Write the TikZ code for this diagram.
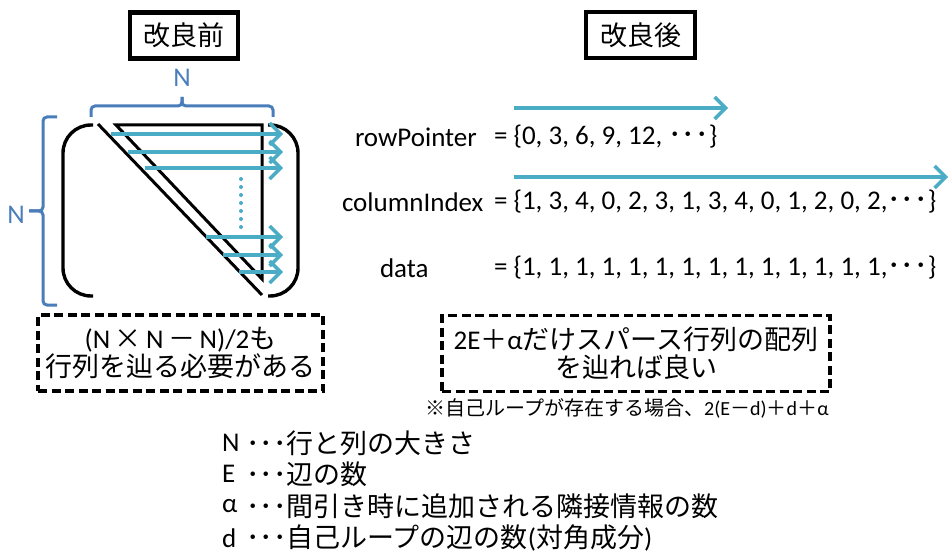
\documentclass[tikz,border=0pt]{standalone}
\usepackage{fontspec}
\setmainfont{Carlito}
\newfontfamily\jpfont{Noto Sans CJK JP}
\usepackage{xcolor}
\usepackage{tikz}
\usetikzlibrary{arrows.meta}

\definecolor{braceBlue}{RGB}{74,126,187}
\definecolor{scanTeal}{RGB}{75,172,198}
\newcommand{\jp}[1]{{\jpfont #1}}

\begin{document}
\begin{tikzpicture}[x=1pt, y=-1pt, inner sep=0, outer sep=0,
        font=\fontsize{27}{31}\selectfont,
        headBox/.style={draw, line width=4.5pt, minimum height=46pt},
        noteBox/.style={draw, line width=3.2pt, dash pattern=on 9pt off 4.5pt,
                align=center, minimum height=76pt},
        scanArrow/.style={scanTeal, line width=3.4pt,
                -{Straight Barb[length=11pt, width=22pt, line width=3.4pt]}},
        sizeBrace/.style={braceBlue, line width=3pt, rounded corners=4pt},
        matParen/.style={line width=3.4pt, rounded corners=28pt},
        diagLine/.style={line width=3pt}]

        \useasboundingbox (0,0) rectangle (950,553);

        % headings
        \node [headBox, minimum width=108pt] (before) at (184,35.5) {\jp{改良前}};
        \node [headBox, minimum width=109pt] (after) at (640.5,35) {\jp{改良後}};

        % size braces
        \draw [sizeBrace] (91,117) -- (91,106) -- (182,106) -- (182,97);
        \draw [sizeBrace] (273,117) -- (273,106) -- (182,106) -- (182,97);
        \draw [sizeBrace] (57,117) -- (43,117) -- (43,211) -- (29,211);
        \draw [sizeBrace] (57,305) -- (43,305) -- (43,211) -- (29,211);
        \node [text=braceBlue] (sizeTop) at (182,78) {N};
        \node [text=braceBlue] (sizeLeft) at (16,215) {N};

        % matrix
        \draw [matParen] (93,125) -- (63,125) -- (63,296) -- (93,296);
        \draw [matParen] (268,125) -- (298,125) -- (298,296) -- (268,296);
        \draw [diagLine] (98,124) -- (262,295);
        \draw [diagLine, line join=miter] (116,125) -- (262,125) -- (262,279) -- cycle;

        \foreach \y/\x in {134/111, 152/128, 168/145, 237/206, 255/223, 272/239}
        {
            \draw [scanArrow] (\x,\y) -- (283,\y);
        }
        \foreach \y in {179,187,...,227}
        {
            \fill [scanTeal] (241,\y) circle (2pt);
        }

        \node [noteBox, minimum width=285pt, font=\fontsize{27}{28}\selectfont] (costBefore) at (180.5,353)
            {(N\,\jp{×}\,N\,\jp{－}\,N)/2\jp{も}\\ \jp{行列を辿る必要がある}};

        % CSR arrays
        \coordinate (rowStart) at (514,108);
        \coordinate (rowEnd) at (728,108);
        \coordinate (colStart) at (514,177);
        \coordinate (colEnd) at (948,177);
        \draw [scanArrow] (rowStart) -- (rowEnd);
        \draw [scanArrow] (colStart) -- (colEnd);

        \node [anchor=west] (rowName) at (355,137) {rowPointer};
        \node [anchor=west] (rowVals) at (494,137) {= \{0, 3, 6, 9, 12, \jp{･･･}\}};
        \node [anchor=west] (colName) at (342,202) {columnIndex};
        \node [anchor=west] (colVals) at (494,202) {= \{1, 3, 4, 0, 2, 3, 1, 3, 4, 0, 1, 2, 0, 2,\jp{･･･}\}};
        \node [anchor=west] (dataName) at (380,268) {data};
        \node [anchor=west] (dataVals) at (494,268) {= \{1, 1, 1, 1, 1, 1, 1, 1, 1, 1, 1, 1, 1, 1,\jp{･･･}\}};

        \node [noteBox, minimum width=388pt, font=\fontsize{27}{28}\selectfont] (costAfter) at (636,353.5)
            {2E\jp{＋}α\jp{だけスパース行列の配列}\\ \jp{を辿れば良い}};
        \node [font=\fontsize{20}{22}\selectfont] (selfLoop) at (627,408)
            {\jp{※自己ループが存在する場合、}2(E\jp{－}d)\jp{＋}d\jp{＋}α};

        % legend
        \node [anchor=west] (keyN) at (222,443) {N};
        \node [anchor=west] (keyNText) at (246,443) {\jp{･･･行と列の大きさ}};
        \node [anchor=west] (keyE) at (222,474) {E};
        \node [anchor=west] (keyEText) at (246,474) {\jp{･･･辺の数}};
        \node [anchor=west] (keyA) at (222,506) {α};
        \node [anchor=west] (keyAText) at (246,506) {\jp{･･･間引き時に追加される隣接情報の数}};
        \node [anchor=west] (keyD) at (222,538) {d};
        \node [anchor=west] (keyDText) at (246,538) {\jp{･･･自己ループの辺の数}(\jp{対角成分})};

\end{tikzpicture}
\end{document}
